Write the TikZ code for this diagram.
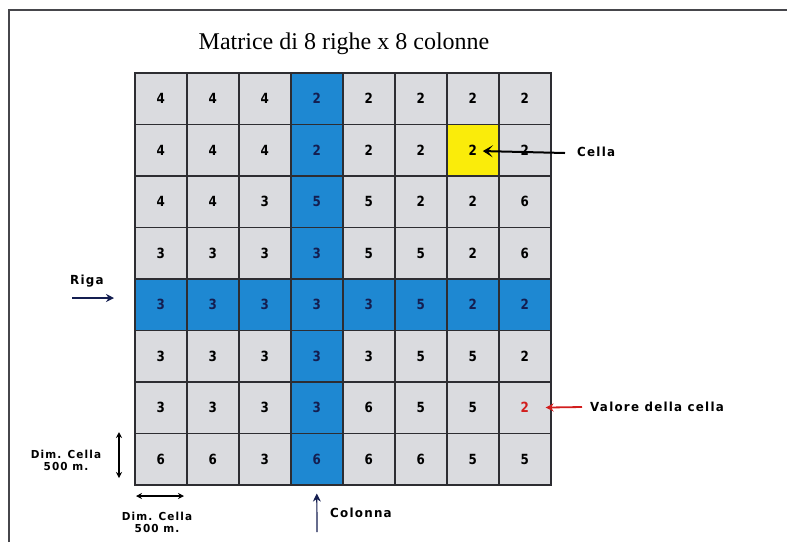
\documentclass[tikz,border=0pt]{standalone}
\usepackage{fontspec}
\setmainfont{Liberation Serif}
\newfontfamily\numfont[FakeStretch=0.85]{DejaVu Sans Bold}
\newfontfamily\labfont[LetterSpace=10,FakeStretch=0.95]{DejaVu Sans Bold}
\usetikzlibrary{arrows.meta}
\definecolor{cellgrey}{RGB}{218,219,223}
\definecolor{cellblue}{RGB}{30,136,210}
\definecolor{cellyellow}{RGB}{250,236,10}
\definecolor{gridline}{RGB}{45,45,50}
\definecolor{navy}{RGB}{20,30,80}
\definecolor{valred}{RGB}{210,30,30}
\definecolor{framegrey}{RGB}{70,70,75}
\tikzset{
  cell/.style={draw=gridline, line width=1.6pt, minimum width=52pt, minimum height=51.5pt,
    anchor=north west, inner sep=0pt, font=\numfont\fontsize{14}{14}\selectfont},
  lab/.style={font=\labfont\fontsize{12.5}{13}\selectfont, inner sep=0pt, align=center},
  dimlab/.style={font=\labfont\fontsize{11}{12}\selectfont, inner sep=0pt, align=center},
  arr/.style={line width=1.2pt, -{Stealth[length=8pt,width=8pt]}},
  dblarr/.style={line width=1.2pt, {Stealth[length=6pt,width=6pt]}-{Stealth[length=6pt,width=6pt]}},
}
\begin{document}
\begin{tikzpicture}[x=1pt,y=-1pt]
\useasboundingbox (0,0) rectangle (787,542);
\fill[white] (0,0) rectangle (787,542);
% frame
\draw[framegrey, line width=2pt] (9,542) -- (9,10) -- (787,10);
% title
\node[font=\fontsize{24}{26}\selectfont, inner sep=0pt] (title) at (344,44) {Matrice di 8 righe x 8 colonne};
% grid
\foreach \r/\vals in {1/{4,4,4,2,2,2,2,2},2/{4,4,4,2,2,2,2,2},3/{4,4,3,5,5,2,2,6},4/{3,3,3,3,5,5,2,6},5/{3,3,3,3,3,5,2,2},6/{3,3,3,3,3,5,5,2},7/{3,3,3,3,6,5,5,2},8/{6,6,3,6,6,6,5,5}}{
  \foreach \v [count=\c] in \vals {
    \def\fc{cellgrey}\def\tc{black}
    \ifnum\c=4 \def\fc{cellblue}\def\tc{navy}\fi
    \ifnum\r=5 \def\fc{cellblue}\def\tc{navy}\fi
    \ifnum\r=2 \ifnum\c=7 \def\fc{cellyellow}\fi\fi
    \ifnum\r=7 \ifnum\c=8 \def\tc{valred}\fi\fi
    \node[cell, fill=\fc, text=\tc] (c\r-\c) at ({134+52*(\c-1)},{72+51.5*(\r-1)}) {\v};
  }
}
% labels
\node[lab, anchor=west] (cella) at (577,152) {Cella};
\node[lab, anchor=west] (valore) at (590,407) {Valore della cella};
\node[lab, anchor=west] (riga) at (70,281) {Riga};
\node[dimlab] (dimleft) at (66,460) {Dim. Cella\\500 m.};
\node[dimlab] (dimbottom) at (157,522) {Dim. Cella\\500 m.};
\node[lab, anchor=west] (colonna) at (330,513) {Colonna};
% arrows
\coordinate (rigastart) at (72,298);
\coordinate (rigaend) at (114,298);
\draw[arr, navy] (rigastart) -- (rigaend);
\draw[arr, black, line width=2pt, -{Stealth[length=10pt,width=12pt,inset=5pt]}] ([xshift=-12pt,yshift=-1pt]cella.west) -- ([xshift=10pt,yshift=-1pt]c2-7.center);
\draw[arr, valred, line width=1.8pt] ([xshift=-8pt]valore.west) -- ([xshift=-6pt]c7-8.east);
\coordinate (vtop) at (119,432);
\coordinate (vbot) at (119,478);
\draw[dblarr, black] (vtop) -- (vbot);
\coordinate (hleft) at (136,496);
\coordinate (hright) at (184,496);
\draw[dblarr, black] (hleft) -- (hright);
\coordinate (colstart) at (317,532);
\draw[arr, navy] (colstart) -- ([yshift=-8pt]c8-4.south);
\end{tikzpicture}
\end{document}
